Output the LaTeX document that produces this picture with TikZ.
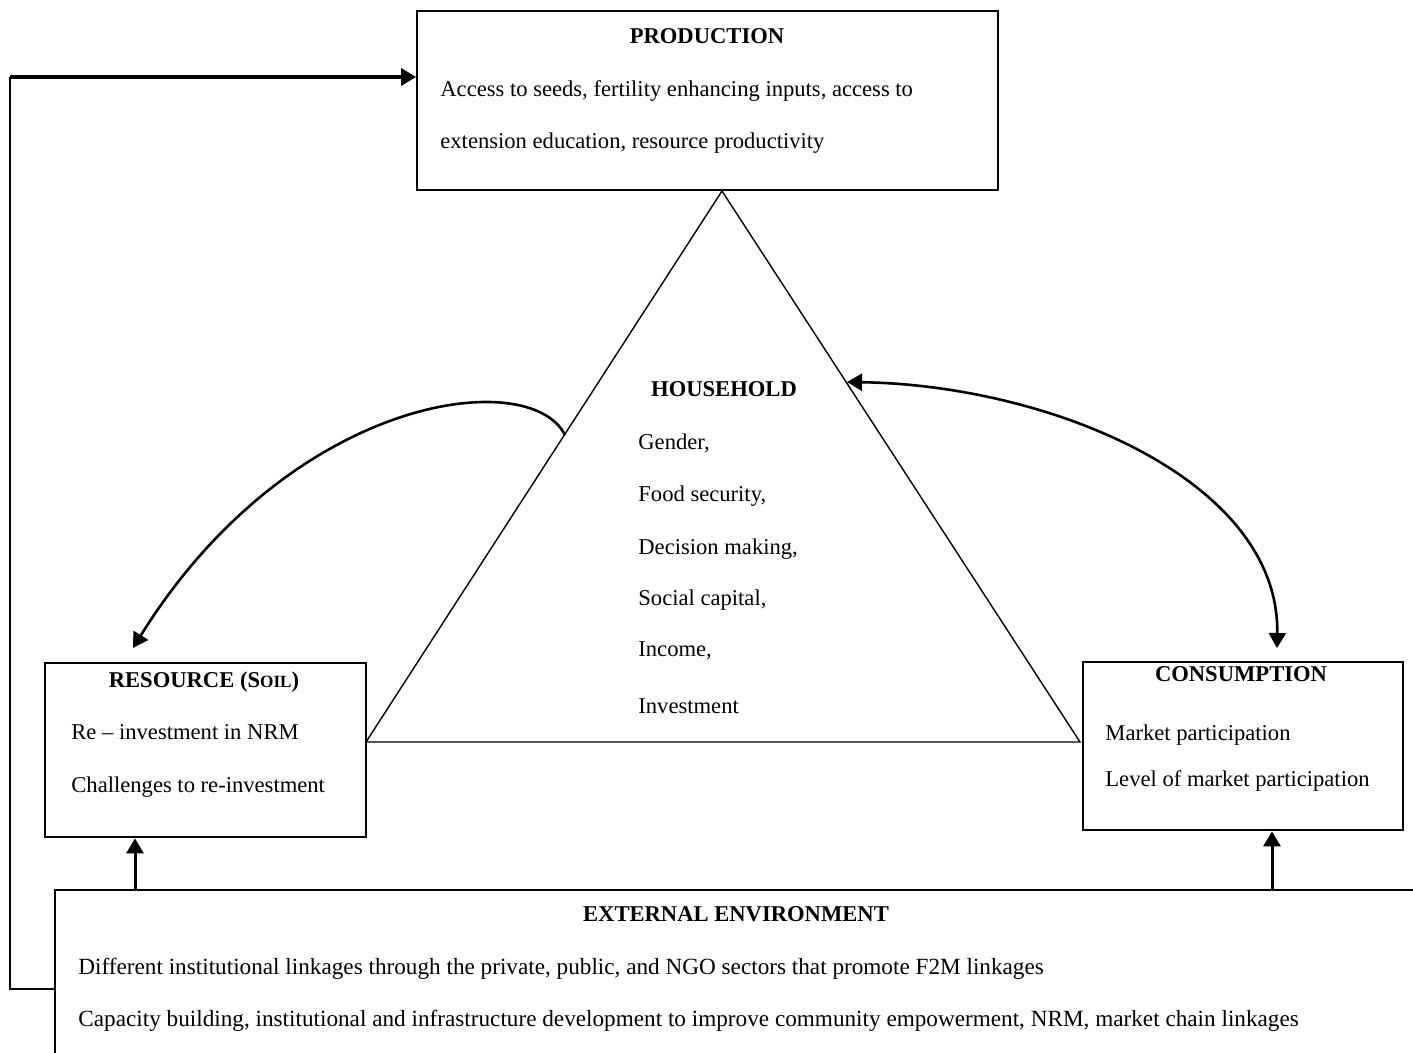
\documentclass[tikz,border=0pt]{standalone}
\usepackage{fontspec}
\setmainfont{Liberation Serif}
\usetikzlibrary{arrows.meta}
\begin{document}
\begin{tikzpicture}[x=0.5pt,y=-0.5pt,
  box/.style={draw, rectangle, inner sep=0pt},
  txt/.style={anchor=mid west, inner sep=0pt, font=\fontsize{11.3}{13}\selectfont},
  wtxt/.style={anchor=mid west, inner sep=0pt, font=\fontsize{11.6}{13}\selectfont},
  ttl/.style={anchor=mid, inner sep=0pt, font=\bfseries\fontsize{11.3}{13}\selectfont},
  arr/.style={-{Triangle[length=7.5pt,width=8.5pt]}},
  darr/.style={{Triangle[length=7.5pt,width=8.5pt]}-{Triangle[length=7.5pt,width=8.5pt]}},
  thinln/.style={line width=0.7pt},
]
\useasboundingbox (0,0) rectangle (1413,1053);

% boxes
\node[box, line width=0.9pt, minimum width=290.5pt, minimum height=89.5pt] (prod) at (707.5,100.5) {};
\node[box, line width=1.4pt, minimum width=160.5pt, minimum height=87pt] (res) at (205.5,750) {};
\node[box, line width=1.4pt, minimum width=160pt, minimum height=84pt] (con) at (1243,746) {};

% production text
\node[ttl] (prodt) at (707,39) {PRODUCTION};
\node[txt] (prod1) at (440,92) {Access to seeds, fertility enhancing inputs, access to};
\node[txt] (prod2) at (440,144) {extension education, resource productivity};

% triangle
\coordinate (apex) at (722,191);
\coordinate (tl) at (366,742);
\coordinate (tr) at (1080,742);
\draw[thinln] (apex) -- (tl) -- (tr) -- cycle;

% household text
\node[ttl] (hht) at (724,392) {HOUSEHOLD};
\node[txt] (hh1) at (638,445) {Gender,};
\node[txt] (hh2) at (638,497) {Food security,};
\node[txt] (hh3) at (638,550) {Decision making,};
\node[txt] (hh4) at (638,601) {Social capital,};
\node[txt] (hh5) at (638,652) {Income,};
\node[txt] (hh6) at (638,709) {Investment};

% resource text
\node[ttl] (rest) at (204,683) {RESOURCE (S{\fontsize{8.6}{10}\selectfont OIL})};
\node[txt] (res1) at (71,735) {Re -- investment in NRM};
\node[txt] (res2) at (71,788) {Challenges to re-investment};

% consumption text
\node[ttl] (cont) at (1241,677) {CONSUMPTION};
\node[txt] (con1) at (1105,736) {Market participation};
\node[txt] (con2) at (1105,782) {Level of market participation};

% external environment
\coordinate (ext) at (55,890);
\coordinate (extr) at (1413,890);
\coordinate (extb) at (55,1053);
\draw[line width=1pt] (extr) -- (ext) -- (extb);
\node[ttl] (extt) at (736,917) {EXTERNAL ENVIRONMENT};
\node[wtxt] (ext1) at (78,970) {Different institutional linkages through the private, public, and NGO sectors that promote F2M linkages};
\node[wtxt] (ext2) at (78,1022) {Capacity building, institutional and infrastructure development to improve community empowerment, NRM, market chain linkages};

% feedback loop to production
\coordinate (fb) at (55,989);
\coordinate (fbl) at (10,989);
\coordinate (fbt) at (10,77);
\draw[line width=0.8pt] (fb) -- (fbl) -- (fbt);
\draw[arr, line width=1.7pt] (fbt) -- (fbt -| prod.west);

% up arrows from external environment
\coordinate (ua) at (135,890);
\coordinate (ub) at (1272,890);
\draw[arr, line width=1.5pt] (ua) -- (ua |- res.south);
\draw[arr, line width=1.5pt] (ub) -- (ub |- con.south);

% curved arrows
\coordinate (hl) at (565,435);
\coordinate (resin) at (133,648);
\draw[arr, line width=1.3pt] (hl) .. controls (530,365) and (290,395) .. (resin);
\coordinate (hr) at (847,382);
\coordinate (conin) at (1277,648);
\draw[darr, line width=1.3pt] (hr) .. controls (1050,385) and (1280,480) .. (conin);
\end{tikzpicture}
\end{document}
